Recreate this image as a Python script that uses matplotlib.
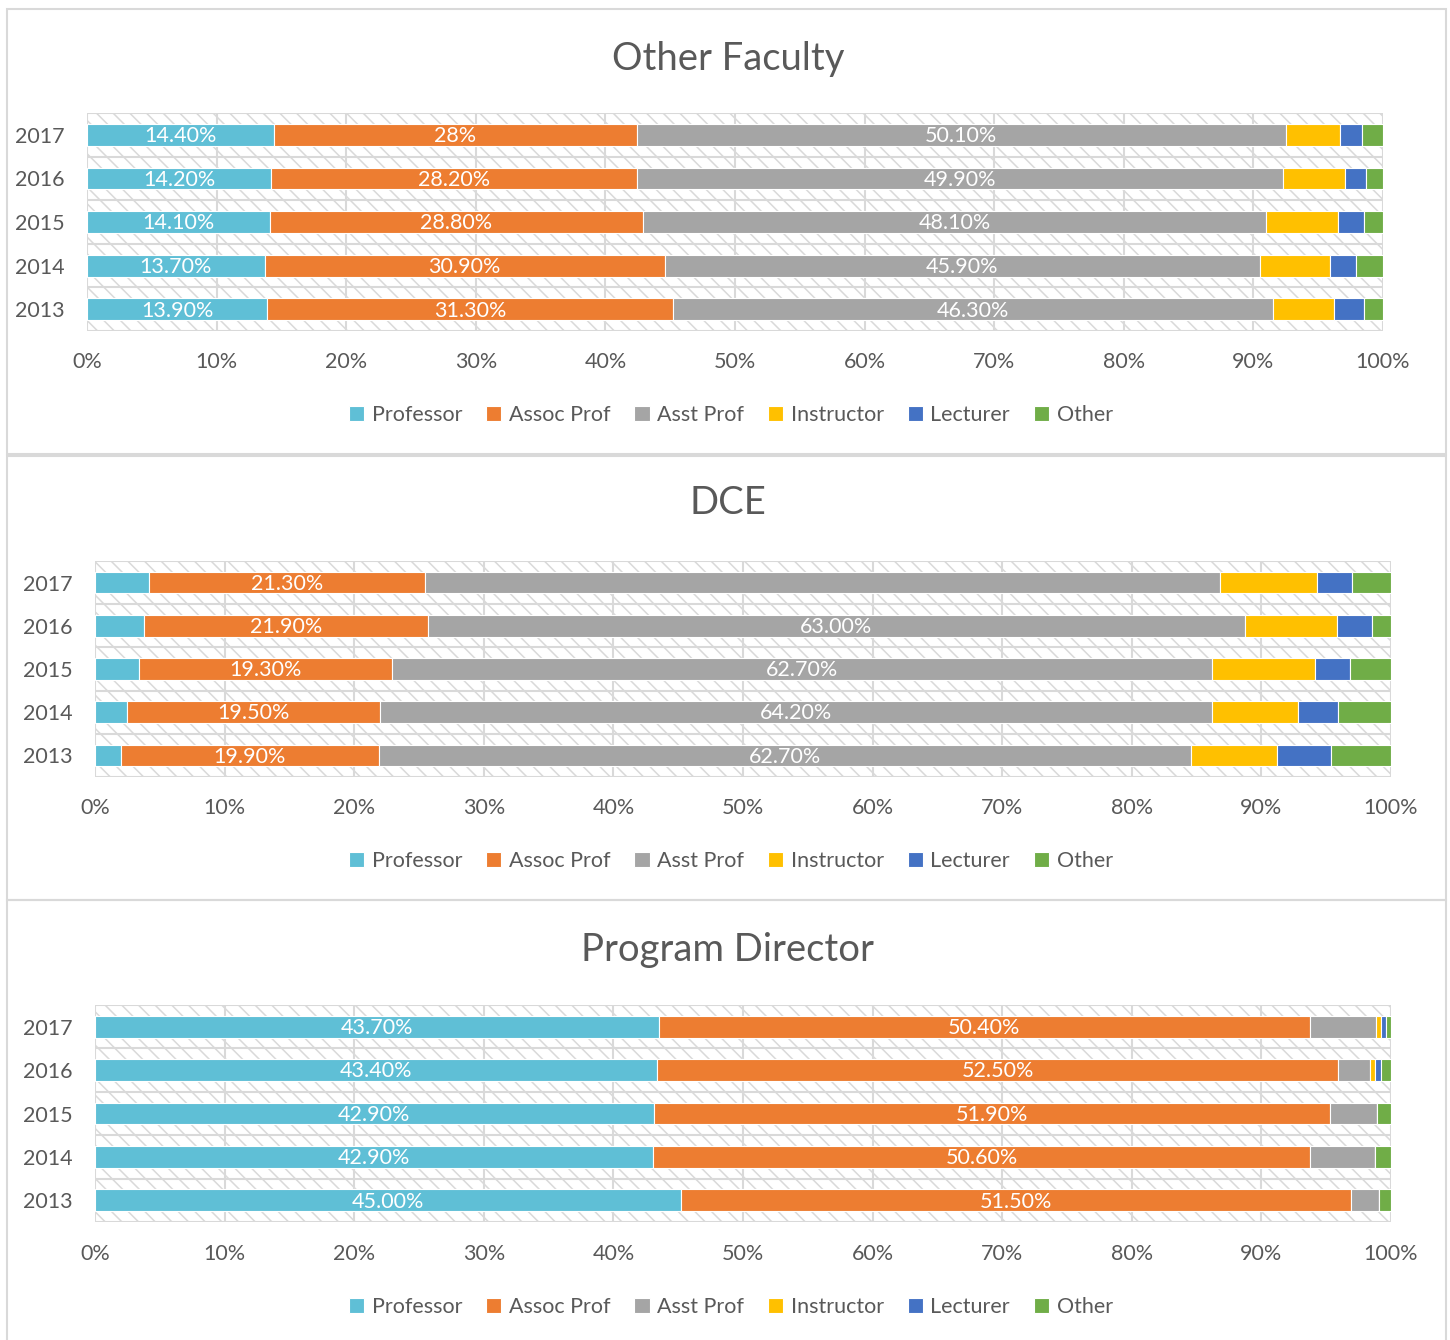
import matplotlib
matplotlib.use("Agg")
import matplotlib.pyplot as plt
from matplotlib.patches import Rectangle
import numpy as np

plt.rcParams['font.family'] = ['Lato', 'DejaVu Sans']
plt.rcParams['hatch.linewidth'] = 1.1
plt.rcParams['hatch.color'] = '#dedede'

years = ["2017", "2016", "2015", "2014", "2013"]
series = ["Professor", "Assoc Prof", "Asst Prof", "Instructor", "Lecturer", "Other"]
colors = ["#5fbfd6", "#ed7d31", "#a5a5a5", "#ffc000", "#4472c4", "#70ad47"]
ticks = [0, 10, 20, 30, 40, 50, 60, 70, 80, 90, 100]

# Other Faculty, rows ordered 2017 .. 2013
of_professor = [14.4, 14.2, 14.1, 13.7, 13.9]
of_assoc = [28.0, 28.2, 28.8, 30.9, 31.3]
of_asst = [50.1, 49.9, 48.1, 45.9, 46.3]
of_instructor = [4.2, 4.8, 5.5, 5.4, 4.7]
of_lecturer = [1.7, 1.6, 2.0, 2.0, 2.3]
of_other = [1.6, 1.3, 1.5, 2.1, 1.5]

# DCE
dce_professor = [4.2, 3.8, 3.4, 2.5, 2.0]
dce_assoc = [21.3, 21.9, 19.3, 19.5, 19.9]
dce_asst = [61.3, 63.0, 62.7, 64.2, 62.7]
dce_instructor = [7.5, 7.1, 7.9, 6.6, 6.6]
dce_lecturer = [2.7, 2.7, 2.7, 3.1, 4.2]
dce_other = [3.0, 1.5, 3.1, 4.1, 4.6]

# Program Director
pd_professor = [43.7, 43.4, 42.9, 42.9, 45.0]
pd_assoc = [50.4, 52.5, 51.9, 50.6, 51.5]
pd_asst = [5.1, 2.5, 3.6, 5.0, 2.2]
pd_instructor = [0.4, 0.4, 0.0, 0.0, 0.0]
pd_lecturer = [0.4, 0.4, 0.0, 0.0, 0.0]
pd_other = [0.4, 0.8, 1.1, 1.2, 0.9]

panels = [
    dict(title="Other Faculty",
         data=[of_professor, of_assoc, of_asst, of_instructor, of_lecturer, of_other],
         labelled={0: [0, 1, 2, 3, 4], 1: [0, 1, 2, 3, 4], 2: [0, 1, 2, 3, 4]},
         overrides={(1, 0): "28%"},
         box=(7, 9, 1446, 454), plot=(87, 113, 1383, 331),
         title_y=56, tick_y=361, legend_y=414),
    dict(title="DCE",
         data=[dce_professor, dce_assoc, dce_asst, dce_instructor, dce_lecturer, dce_other],
         labelled={1: [0, 1, 2, 3, 4], 2: [1, 2, 3, 4]},
         overrides={},
         box=(7, 456, 1446, 900), plot=(95, 561, 1391, 777),
         title_y=500, tick_y=807, legend_y=860),
    dict(title="Program Director",
         data=[pd_professor, pd_assoc, pd_asst, pd_instructor, pd_lecturer, pd_other],
         labelled={0: [0, 1, 2, 3, 4], 1: [0, 1, 2, 3, 4]},
         overrides={},
         box=(7, 900, 1446, 1345), plot=(95, 1005, 1391, 1222),
         title_y=947, tick_y=1253, legend_y=1306),
]

W, H = 1450, 1340
fig = plt.figure(figsize=(W / 100, H / 100), dpi=100)
fig.patch.set_facecolor("white")

text_color = "#595959"
grid_color = "#d9d9d9"


def fx(px):
    return px / W


def fy(py):
    return 1 - py / H


for p in panels:
    # chart frame
    bx0, by0, bx1, by1 = p["box"]
    fig.add_artist(Rectangle((fx(bx0), fy(by1)), fx(bx1 - bx0), (by1 - by0) / H,
                             transform=fig.transFigure, facecolor="none",
                             edgecolor=grid_color, linewidth=1.5, zorder=0))

    x0, y0, x1, y1 = p["plot"]
    ax = fig.add_axes([fx(x0), fy(y1), fx(x1 - x0), (y1 - y0) / H])
    ax.set_xlim(0, 100)
    n = len(years)
    ax.set_ylim(n - 0.5, -0.5)

    # patterned plot area
    ax.add_patch(Rectangle((0, -0.5), 100, n, facecolor="white", edgecolor=grid_color,
                           hatch="\\\\", linewidth=0, zorder=0))
    for t in ticks:
        ax.axvline(t, color=grid_color, linewidth=1.5, zorder=1)
    for k in range(n + 1):
        ax.axhline(k - 0.5, color=grid_color, linewidth=1.5, zorder=1)

    data = np.array(p["data"], dtype=float)
    totals = data.sum(axis=0)
    shares = data / totals * 100.0
    ypos = np.arange(n)
    left = np.zeros(n)
    for si, name in enumerate(series):
        ax.barh(ypos, shares[si], left=left, height=0.5, color=colors[si],
                edgecolor="white", linewidth=0.8, label=name, zorder=2)
        for yi in p["labelled"].get(si, []):
            txt = p["overrides"].get((si, yi), f"{data[si][yi]:.2f}%")
            ax.text(left[yi] + shares[si][yi] / 2, ypos[yi] + 0.03, txt, color="white",
                    ha="center", va="center", fontsize=15.5, zorder=3)
        left = left + shares[si]

    ax.set_yticks(ypos)
    ax.set_yticklabels(years)
    ax.set_xticks(ticks)
    ax.set_xticklabels([f"{t}%" for t in ticks])
    ax.tick_params(axis="both", length=0, labelsize=15.5, colors=text_color)
    ax.tick_params(axis="x", pad=(p["tick_y"] - y1) - 15)
    ax.tick_params(axis="y", pad=16)
    for s in ax.spines.values():
        s.set_visible(False)

    fig.text(0.5 + 0.002, fy(p["title_y"] + 3), p["title"], ha="center", va="center",
             fontsize=27.5, color=text_color)

    handles, labels = ax.get_legend_handles_labels()
    fig.legend(handles, labels, loc="center", bbox_to_anchor=(fx(731), fy(p["legend_y"] + 1)),
               ncol=6, frameon=False, fontsize=15.5, labelcolor=text_color,
               handlelength=0.7, handleheight=0.7, handletextpad=0.35,
               columnspacing=1.12)

fig.savefig("out.png", dpi=100, facecolor="white")
